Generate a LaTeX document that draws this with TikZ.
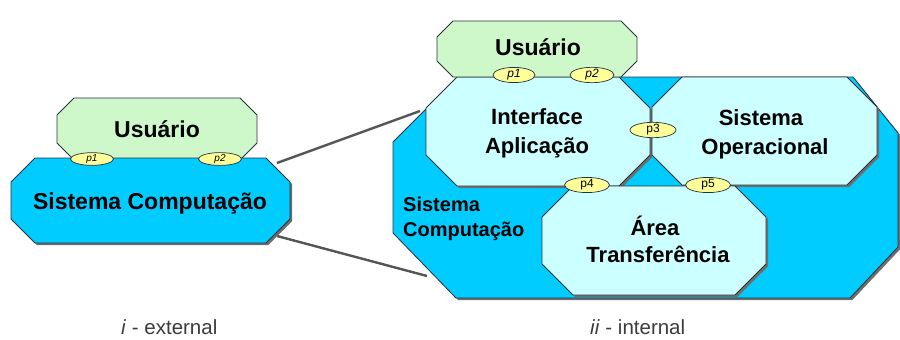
\documentclass[tikz,border=0pt]{standalone}
\usepackage{fontspec}
\setmainfont{Liberation Sans}
\usetikzlibrary{calc,shapes.geometric}
\definecolor{cblue}{RGB}{0,204,255}
\definecolor{ccyan}{RGB}{204,255,255}
\definecolor{cgreen}{RGB}{206,248,202}
\definecolor{cyel}{RGB}{255,255,153}
\definecolor{cedge}{RGB}{40,50,60}
\definecolor{cshadow}{RGB}{110,110,110}
\definecolor{cline}{RGB}{85,85,85}
\definecolor{ccap}{RGB}{60,60,60}
\newcommand\octshape[6]{%
  \path[#6] ({#1+#5},#2) -- ({#3-#5},#2) -- (#3,{#2+#5}) -- (#3,{#4-#5}) --
    ({#3-#5},#4) -- ({#1+#5},#4) -- (#1,{#4-#5}) -- (#1,{#2+#5}) -- cycle;}
\tikzset{
  dropshadow/.style={fill=cshadow, shift={(2.2,2.2)}},
  bluebox/.style={fill=cblue, draw=cedge, line width=0.8pt},
  cyanbox/.style={fill=ccyan, draw=cedge, line width=0.8pt},
  greenbox/.style={fill=cgreen, draw=cedge, line width=0.8pt},
  lab/.style={anchor=base, inner sep=0pt, font=\bfseries\fontsize{23}{27}\selectfont},
  inlab/.style={anchor=base, inner sep=0pt, font=\bfseries\fontsize{22}{26}\selectfont},
  smlab/.style={anchor=base west, inner sep=0pt, font=\bfseries\fontsize{20}{24}\selectfont},
  captext/.style={anchor=base west, inner sep=0pt, text=ccap, font=\fontsize{20.5}{24}\selectfont},
  port/.style={ellipse, draw=cedge, fill=cyel, line width=0.7pt, inner sep=0pt,
    minimum width=44pt, minimum height=13pt, font=\fontsize{12}{13}\selectfont},
  conn/.style={draw=cline, line width=2.4pt}
}
\begin{document}
\begin{tikzpicture}[x=1pt,y=-1pt]
\useasboundingbox (0,0) rectangle (900,340);
% ---------- left (external) ----------
\octshape{57}{98}{257}{160}{17}{greenbox}
\octshape{11}{158}{290}{243}{24}{dropshadow}
\octshape{11}{158}{290}{243}{24}{bluebox}
\node[lab] (usrL) at (157,137) {Usuário};
\node[lab] (scL) at (150,209) {Sistema Computação};
\node[port, minimum width=43pt, minimum height=11pt, font=\fontsize{10}{11}\selectfont] (p1L) at (92,159) {\itshape p1};
\node[port, minimum width=43pt, minimum height=11pt, font=\fontsize{10}{11}\selectfont] (p2L) at (220,159) {\itshape p2};
% ---------- right (internal) ----------
\path[dropshadow] (458,77) -- (853,77) -- (898,133) -- (898,247) -- (850,298) -- (456,298) -- (393,233) -- (393,142) -- cycle;
\path[bluebox] (458,77) -- (853,77) -- (898,133) -- (898,247) -- (850,298) -- (456,298) -- (393,233) -- (393,142) -- cycle;
\octshape{426}{77}{650}{186}{31}{dropshadow}
\octshape{426}{77}{650}{186}{31}{cyanbox}
\octshape{652}{77}{877}{185}{30}{dropshadow}
\octshape{652}{77}{877}{185}{30}{cyanbox}
\octshape{542}{186}{766}{295}{31}{dropshadow}
\octshape{542}{186}{766}{295}{31}{cyanbox}
\octshape{437}{21}{637}{77}{16}{greenbox}
\node[lab] (usrR) at (538,55) {Usuário};
\node[inlab] (ia1) at (537,124) {Interface};
\node[inlab] (ia2) at (537,153) {Aplicação};
\node[inlab] (so1) at (761,125) {Sistema};
\node[inlab] (so2) at (765,154) {Operacional};
\node[inlab] (at1) at (655,235) {Área};
\node[inlab] (at2) at (658,262) {Transferência};
\node[smlab] (sc1) at (403,211) {Sistema};
\node[smlab] (sc2) at (403,236) {Computação};
\node[port, minimum width=42pt, minimum height=14pt] (p1R) at (514,75) {\itshape p1};
\node[port, minimum width=44pt, minimum height=14pt] (p2R) at (592,75) {\itshape p2};
\node[port, minimum width=46pt] (p3) at (653,130) {p3};
\node[port, minimum width=45pt] (p4) at (587,185) {p4};
\node[port, minimum width=45pt, minimum height=14pt] (p5) at (708,185) {p5};
% ---------- connectors ----------
\coordinate (a1) at (277,163);
\coordinate (a2) at (420,111);
\coordinate (b1) at (277,236);
\coordinate (b2) at (427,276);
\draw[conn] (a1) -- (a2);
\draw[conn] (b1) -- (b2);
% ---------- captions ----------
\node[captext] (capL) at (121,334) {\textit{i} - external};
\node[captext] (capR) at (590,334) {\textit{ii} - internal};
\end{tikzpicture}
\end{document}
